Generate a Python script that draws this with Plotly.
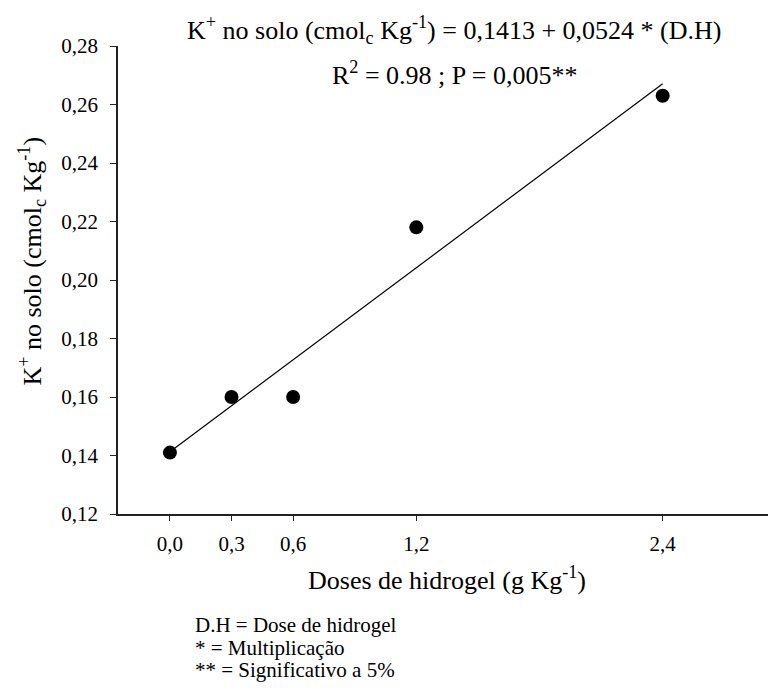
import plotly.graph_objects as go

doses = [0.0, 0.3, 0.6, 1.2, 2.4]
k_solo = [0.141, 0.160, 0.160, 0.218, 0.263]
intercept = 0.1413
slope = 0.0524
fit_x = [0.0, 2.4]
fit_y = [intercept + slope * x for x in fit_x]

x_ticks = [0.0, 0.3, 0.6, 1.2, 2.4]
x_ticklabels = ["0,0", "0,3", "0,6", "1,2", "2,4"]
y_ticks = [0.12, 0.14, 0.16, 0.18, 0.20, 0.22, 0.24, 0.26, 0.28]
y_ticklabels = ["0,12", "0,14", "0,16", "0,18", "0,20", "0,22", "0,24", "0,26", "0,28"]

FONT = "Liberation Serif"

fig = go.Figure()
fig.add_trace(go.Scatter(x=fit_x, y=fit_y, mode="lines",
                         line=dict(color="black", width=1.2), showlegend=False))
fig.add_trace(go.Scatter(x=doses, y=k_solo, mode="markers",
                         marker=dict(color="black", size=14), showlegend=False))

fig.update_layout(
    width=768, height=681,
    margin=dict(l=110, r=0, t=38, b=175),
    paper_bgcolor="white", plot_bgcolor="white",
    font=dict(family=FONT, color="black", size=21),
    xaxis=dict(range=[-0.253, 2.952], tickvals=x_ticks, ticktext=x_ticklabels,
               showgrid=False, zeroline=False, showline=True, linecolor="#222",
               linewidth=1.5, ticks="outside", ticklen=5, tickcolor="#222",
               ticklabelstandoff=5,
               tickfont=dict(family=FONT, size=21),
               title=dict(text="Doses de hidrogel (g Kg<sup>-1</sup>)",
                          font=dict(family=FONT, size=26), standoff=16)),
    yaxis=dict(range=[0.12, 0.28], tickvals=y_ticks, ticktext=y_ticklabels,
               showgrid=False, zeroline=False, showline=True, linecolor="#222",
               linewidth=1.5, ticks="outside", ticklen=6, tickcolor="#222",
               ticklabelstandoff=8,
               tickfont=dict(family=FONT, size=21)),
    annotations=[
        dict(text="K<sup>+</sup> no solo (cmol<sub>c</sub> Kg<sup>-1</sup>)",
             xref="paper", yref="paper", x=-0.131, y=0.541, showarrow=False,
             textangle=-90, xanchor="center", yanchor="middle",
             font=dict(family=FONT, size=26)),
        dict(text="K<sup>+</sup> no solo (cmol<sub>c</sub> Kg<sup>-1</sup>) = 0,1413 + 0,0524 * (D.H)",
             xref="paper", yref="paper", x=0.511, y=1.034, showarrow=False,
             xanchor="center", yanchor="middle", font=dict(family=FONT, size=26)),
        dict(text="R<sup>2</sup> = 0.98 ; P = 0,005**",
             xref="paper", yref="paper", x=0.512, y=0.942, showarrow=False,
             xanchor="center", yanchor="middle", font=dict(family=FONT, size=26)),
        dict(text="D.H = Dose de hidrogel",
             xref="paper", yref="paper", x=0.114, y=-0.237, showarrow=False,
             xanchor="left", yanchor="middle", font=dict(family=FONT, size=21)),
        dict(text="* = Multiplicação",
             xref="paper", yref="paper", x=0.114, y=-0.286, showarrow=False,
             xanchor="left", yanchor="middle", font=dict(family=FONT, size=21)),
        dict(text="** = Significativo a 5%",
             xref="paper", yref="paper", x=0.114, y=-0.333, showarrow=False,
             xanchor="left", yanchor="middle", font=dict(family=FONT, size=21)),
    ],
)

fig.write_html("out.html")
